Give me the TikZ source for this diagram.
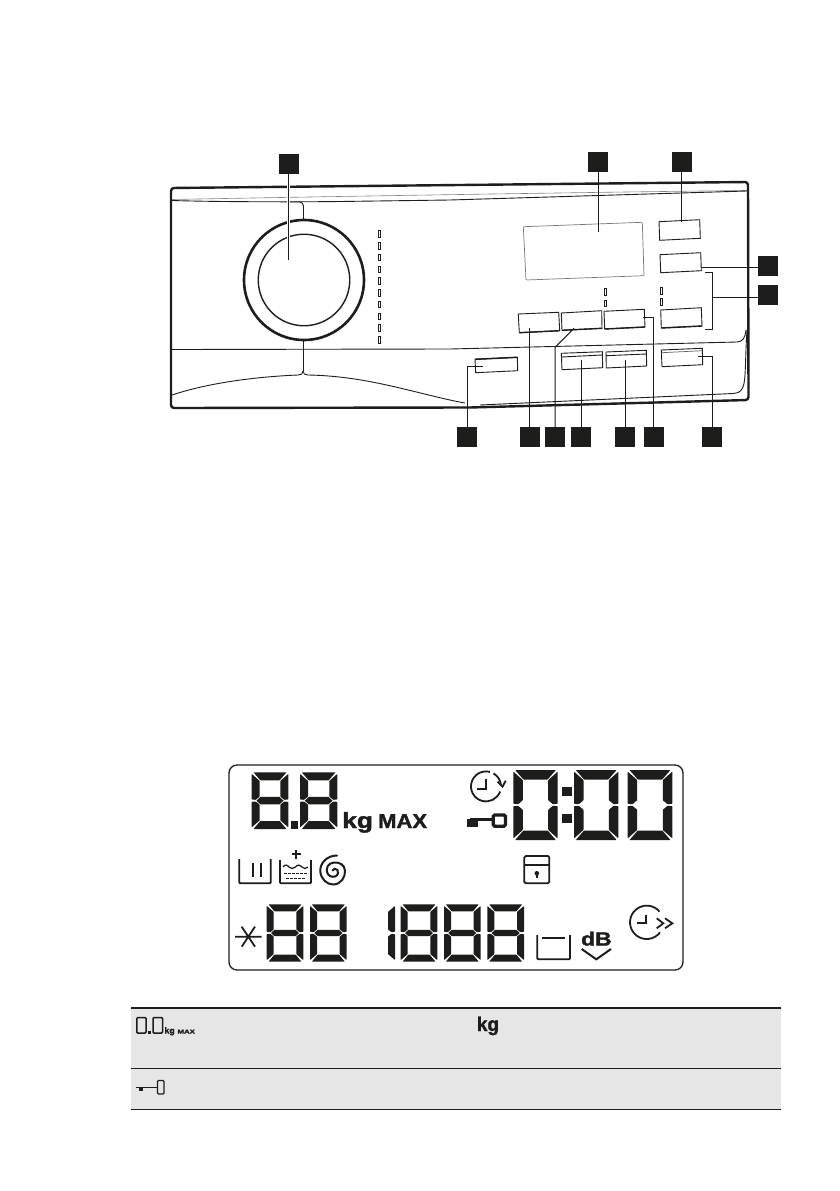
\documentclass[tikz,border=0pt]{standalone}
\usepackage{fontspec}
\usepackage{graphicx}
\setmainfont{Liberation Sans}
\newfontfamily\heavyfont[UprightFont=* Bold,FakeBold=1.6]{Liberation Sans}
\definecolor{ink}{HTML}{1D1D1B}
\definecolor{rowgrey}{HTML}{E6E6E6}
\tikzset{
  x=1pt,y=-1pt,
  tag/.style={fill=ink,draw=none,minimum size=20pt,inner sep=0pt,outer sep=0pt},
  leader/.style={draw=ink,line width=1pt},
  panel/.style={draw=ink,line width=2.4pt,line join=round},
  thin line/.style={draw=ink,line width=0.9pt},
  btn/.style={draw=ink,line width=0.9pt},
  led/.style={draw=ink,line width=0.6pt},
  icon/.style={draw=ink,line width=1.8pt},
  rule/.style={draw=ink,line width=1pt}
}
% seven segments: #1=x #2=y #3=w #4=h #5=thickness #6=list
\newcommand{\lcd}[6]{%
 \def\X{#1}\def\Y{#2}\def\W{#3}\def\H{#4}\def\T{#5}%
 \foreach \s in {#6}{%
  \if\s a\fill[ink,rounded corners=0.6pt] (\X+1.8,\Y) -- (\X+\W-1.8,\Y) -- (\X+\W-\T-0.6,\Y+\T) -- (\X+\T+0.6,\Y+\T) -- cycle;\fi
  \if\s d\fill[ink,rounded corners=0.6pt] (\X+1.8,\Y+\H) -- (\X+\W-1.8,\Y+\H) -- (\X+\W-\T-0.6,\Y+\H-\T) -- (\X+\T+0.6,\Y+\H-\T) -- cycle;\fi
  \if\s g\fill[ink] (\X+\T+0.8,\Y+\H/2-\T/2+0.3) -- (\X+\W-\T-0.8,\Y+\H/2-\T/2+0.3) -- (\X+\W-\T/2-0.8,\Y+\H/2) -- (\X+\W-\T-0.8,\Y+\H/2+\T/2-0.3) -- (\X+\T+0.8,\Y+\H/2+\T/2-0.3) -- (\X+\T/2+0.8,\Y+\H/2) -- cycle;\fi
  \if\s f\fill[ink,rounded corners=0.6pt] (\X,\Y+1.6) -- (\X+\T,\Y+\T+0.6) -- (\X+\T,\Y+\H/2-\T/2) -- (\X+\T/2,\Y+\H/2-0.8) -- (\X,\Y+\H/2-1.2) -- cycle;\fi
  \if\s e\fill[ink,rounded corners=0.6pt] (\X,\Y+\H-1.6) -- (\X+\T,\Y+\H-\T-0.6) -- (\X+\T,\Y+\H/2+\T/2) -- (\X+\T/2,\Y+\H/2+0.8) -- (\X,\Y+\H/2+1.2) -- cycle;\fi
  \if\s b\fill[ink,rounded corners=0.6pt] (\X+\W,\Y+1.6) -- (\X+\W-\T,\Y+\T+0.6) -- (\X+\W-\T,\Y+\H/2-\T/2) -- (\X+\W-\T/2,\Y+\H/2-0.8) -- (\X+\W,\Y+\H/2-1.2) -- cycle;\fi
  \if\s c\fill[ink,rounded corners=0.6pt] (\X+\W,\Y+\H-1.6) -- (\X+\W-\T,\Y+\H-\T-0.6) -- (\X+\W-\T,\Y+\H/2+\T/2) -- (\X+\W-\T/2,\Y+\H/2+0.8) -- (\X+\W,\Y+\H/2+1.2) -- cycle;\fi
 }}
\begin{document}
\begin{tikzpicture}
\useasboundingbox (0,0) rectangle (839,1191);
\fill[white] (0,0) rectangle (839,1191);
% ---------- panel ----------
\draw[panel,rounded corners=3pt] (171,408) -- (171,188) -- (748,182) -- (748.5,400) -- (470,407.5) -- cycle;
\draw[draw=ink!55,line width=0.6pt] (172,199.5) .. controls (300,197) and (600,192) .. (747,190.5);
\draw[thin line] (172,200.5) .. controls (220,202) and (300,202) .. (340,201.5) -- (450,200) -- (747,191);
\draw[thin line,rounded corners=4pt] (290,202) -- (303.5,202) -- (303.5,219);
\draw[thin line] (172,349.5) -- (450,349) -- (737,342) .. controls (743,341.5) and (745,338) .. (746,330);
\draw[thin line] (303,340) -- (303,371);
\draw[thin line] (303,371) .. controls (303,374) and (301,375) .. (298,375) .. controls (250,377) and (205,384) .. (172,395);
\draw[thin line] (303,371) .. controls (303,374) and (305,375) .. (308,375) .. controls (370,376) and (420,395) .. (465,403);
\draw[thin line] (747,330) .. controls (745,360) and (746,380) .. (743,387) .. controls (741,392) and (738,393) .. (733,393.5) -- (480,405);
% knob
\node[circle,draw=ink,line width=2.6pt,minimum size=120pt,inner sep=0,fill=white] (knobouter) at (304,280) {};
\node[circle,draw=ink,line width=1.4pt,minimum size=91.5pt,inner sep=0] (knobinner) at (304,280) {};
% program LEDs
\foreach \i in {0,...,9}{\draw[led] (378,{234+11.74*\i-3.3}) rectangle (380.6,{234+11.74*\i+3.3});}
% display outline
\draw[draw=ink!60,line width=0.7pt,rounded corners=1pt] (523.3,226.7) -- (642.3,222.3) -- (644,275.7) -- (526,280) -- cycle;
% buttons
\draw[btn] (659,221.7) -- (699.7,219.7) -- (700.3,238.3) -- (659.7,240.3) -- cycle;
\draw[btn] (660,254.7) -- (700.7,252.7) -- (701.3,270.7) -- (660.7,272.7) -- cycle;
\draw[btn] (660.7,310) -- (701.3,307.7) -- (702,326) -- (661.3,328) -- cycle;
\draw[btn] (518.3,314) -- (558.7,312.3) -- (559.7,330.7) -- (519.3,332.7) -- cycle;
\draw[btn] (561.3,313) -- (601.7,310.7) -- (602,328.3) -- (562,330.3) -- cycle;
\draw[btn] (604,311.3) -- (644.3,309.3) -- (645,327) -- (604.7,329) -- cycle;
\draw[line width=1.4pt,draw=ink] (661.3,328) -- (702,326) (519.3,332.7) -- (559.7,330.7) (562,330.3) -- (602,328.3) (604.7,329) -- (645,327);
\draw[btn] (475,359.3) -- (517.3,357.3) -- (517.7,370.7) -- (475.7,372.7) -- cycle;
\draw[line width=1.5pt,draw=ink] (475,359.3) -- (517.3,357.3);
\draw[btn] (561.3,353.3) -- (602.3,351.7) -- (602.7,367.7) -- (562,369.7) -- cycle;
\draw[btn] (561.5,357) -- (602.4,355);
\draw[btn] (606,352) -- (646.3,350.3) -- (646.7,366) -- (606.3,368) -- cycle;
\draw[btn] (606.1,355.7) -- (646.4,354);
\draw[btn] (661.3,350) -- (702.3,348.3) -- (702.7,364.7) -- (662,366.7) -- cycle;
\draw[draw=ink!70,line width=0.7pt] (661.5,352.7) -- (702.4,350.7);
% small LEDs
\draw[led] (604.2,288.5) rectangle (606.6,295);
\draw[led] (604.2,300) rectangle (606.6,306.5);
\draw[led] (660.2,287.5) rectangle (662.6,294);
\draw[led] (660.2,298.7) rectangle (662.6,305.2);
% tags
\node[tag] (t1) at (289,164) {};
\node[tag] (t2) at (598,162) {};
\node[tag] (t3) at (682,162) {};
\node[tag] (t4) at (768,266) {};
\node[tag] (t5) at (768,295) {};
\node[tag] (b1) at (467,437) {};
\node[tag] (b2) at (530,437) {};
\node[tag] (b3) at (555,437) {};
\node[tag] (b4) at (581,437) {};
\node[tag] (b5) at (625,437) {};
\node[tag] (b6) at (654,437) {};
\node[tag] (b7) at (712,437) {};
% leader ends
\coordinate (e1) at (288.5,259.5);
\coordinate (e2) at (598.5,231.5);
\coordinate (e3) at (681.5,222);
\coordinate (e4) at (700.7,267);
\coordinate (e5a) at (705,272.3);
\coordinate (e5b) at (712.3,272.3);
\coordinate (e5c) at (712.3,329.3);
\coordinate (e5d) at (705,329.3);
\coordinate (e5m) at (712.3,297.3);
\coordinate (f1a) at (467,366.7);
\coordinate (f1b) at (482.7,366.7);
\coordinate (f2) at (529.7,327.7);
\coordinate (f3a) at (555,347.3);
\coordinate (f3b) at (574,328.3);
\coordinate (f4) at (581.3,360);
\coordinate (f5) at (625,360);
\coordinate (f6a) at (653.3,317.7);
\coordinate (f6b) at (642.7,317.7);
\coordinate (f7a) at (712.3,356.3);
\coordinate (f7b) at (698.3,356.3);
\draw[white,line width=3pt] (288.5,174) -- (288.5,240);
\draw[leader] (t1.south -| e1) -- (e1);
\draw[leader] (t2.south -| e2) -- (e2);
\draw[leader] (t3.south -| e3) -- (e3);
\draw[leader] (t4.west |- e4) -- (e4);
\draw[leader] (e5a) -- (e5b) -- (e5c) -- (e5d);
\draw[leader] (e5m) -- (t5.west |- e5m);
\draw[leader] (b1.north -| f1a) -- (f1a) -- (f1b);
\draw[leader] (b2.north -| f2) -- (f2);
\draw[leader] (b3.north -| f3a) -- (f3a) -- (f3b);
\draw[leader] (b4.north -| f4) -- (f4);
\draw[leader] (b5.north -| f5) -- (f5);
\draw[leader] (b6.north -| f6a) -- (f6a) -- (f6b);
\draw[leader] (b7.north -| f7a) -- (f7a) -- (f7b);
% ---------- LCD ----------
\draw[draw=ink,line width=1.3pt,rounded corners=8pt] (229,765) rectangle (683,970);
\lcd{251.7}{772.3}{36.6}{56.7}{8}{a,b,c,d,e,f,g}
\lcd{300}{772.3}{37.3}{56.7}{8}{a,b,c,d,e,f,g}
\fill[ink] (291,821) rectangle (298,829);
\lcd{513.3}{770}{44.4}{70}{9.5}{a,b,c,d,e,f}
\lcd{574}{770}{44.4}{70}{9.5}{a,b,c,d,e,f}
\lcd{627.7}{770}{44.6}{70}{9.5}{a,b,c,d,e,f}
\fill[ink] (562.3,786.7) rectangle (571.7,796);
\fill[ink] (562.3,814) rectangle (571.7,823.3);
\lcd{266.7}{904.3}{36.6}{57.4}{7}{a,b,c,d,e,f,g}
\lcd{310}{904.3}{36.7}{57.4}{7}{a,b,c,d,e,f,g}
\lcd{379}{904.3}{16}{57.4}{7}{b,c}
\lcd{400.7}{904.3}{36.6}{57.4}{7}{a,b,c,d,e,f,g}
\lcd{444}{904.3}{36.6}{57.4}{7}{a,b,c,d,e,f,g}
\lcd{487.3}{904.3}{36.7}{57.4}{7}{a,b,c,d,e,f,g}
\node[anchor=base west,inner sep=0,text=ink] (kg) at (342,828) {\scalebox{1.2}[1]{\fontsize{22}{22}\selectfont\heavyfont kg}};
\node[anchor=base west,inner sep=0,text=ink] (max) at (378,828) {\scalebox{1.1}[1]{\fontsize{20}{20}\selectfont\heavyfont MAX}};
\node[anchor=base west,inner sep=0,text=ink] (db) at (581,945.5) {\scalebox{1.2}[1]{\fontsize{19}{19}\selectfont\heavyfont dB}};
% clock with return arrow (screen angles negated: y runs down)
\draw[icon] (486,786.4) ++(-75:15) arc (-75:-340:15);
\draw[icon] (486,786.4) ++(-60:15) arc (-60:-5:15);
\draw[icon] (497.7,781.7) -- (502.5,786.7) -- (505.7,780.7);
\draw[icon,line width=2pt] (486,779) -- (486,789) -- (477.3,789);
% key
\draw[ink,line width=3pt] (470,819.8) -- (492,819.8);
\fill[ink] (466.5,818.5) rectangle (478,826.5);
\draw[icon,line width=3.2pt,rounded corners=1.5pt] (493.2,815) rectangle (505.5,826.2);
% lock
\draw[icon,rounded corners=1.5pt] (524.3,856) rectangle (549.3,883.3);
\draw[icon] (524.3,865) -- (549.3,865);
\fill[ink] (536.8,873.3) circle (2.3);
\draw[ink,line width=1.5pt] (536.8,873.3) -- (536.8,878);
% tub bars
\draw[icon,rounded corners=1pt] (239.3,859) -- (239.3,883.3) -- (270.7,883.3) -- (270.7,859);
\draw[icon] (253.3,863) -- (253.3,877) (260.7,863) -- (260.7,877);
% water tub
\draw[icon,rounded corners=1pt] (280,860) -- (280,883.3) -- (311,883.3) -- (311,860);
\draw[icon] (296,850) -- (296,858.5) (291.5,854.3) -- (300.5,854.3);
\draw[icon,line width=1.3pt] (283,867) .. controls (285,864.5) and (287,864.5) .. (289,867) .. controls (291,869) and (293,869) .. (295.5,867) .. controls (297.5,864.5) and (299.5,864.5) .. (302,867) .. controls (304,869) and (306,869) .. (308,867);
\draw[icon,line width=1.6pt,dash pattern=on 2.6pt off 1.4pt] (284,873.3) -- (308,873.3);
\draw[icon,line width=1.6pt,dash pattern=on 2.6pt off 1.4pt] (286,878.3) -- (305,878.3);
% spiral
\draw[icon,line width=2pt,line cap=round] (337,855.5) .. controls (327,855.5) and (320,863) .. (320.3,871) .. controls (320.6,879) and (327,884.5) .. (333,884.5) .. controls (341,884.5) and (345.5,877) .. (345,870.5) .. controls (344.5,864.5) and (339,862) .. (334,862.5) .. controls (328,863) and (326,868) .. (327,872) .. controls (328,876) and (332,877.5) .. (335,876.5) .. controls (338,875.5) and (339,872) .. (337.5,870) .. controls (336,868) and (333,868.5) .. (332.5,870.5);
% frost star
\draw[icon] (235,936.7) -- (261.7,936.7) (241.7,926.7) -- (255,946.7) (255,926.7) -- (241.7,946.7);
% tray
\draw[icon,rounded corners=1pt] (537.3,935) -- (537.3,959.3) -- (570,959.3) -- (570,935);
\draw[icon] (541.7,938.3) -- (565,938.3);
% dB chevron
\draw[icon,line width=2pt] (581.7,949) -- (596.3,959.3) -- (611,949);
% delay clock
\draw[icon] (646.7,922.3) ++(37:16.7) arc (37:320:16.7);
\draw[icon,line width=2pt] (645.7,914.5) -- (645.7,922.7) -- (636.7,922.7);
\draw[icon] (656.7,918.3) -- (663.3,923.3) -- (656.7,928.3);
\draw[icon] (665,918.3) -- (672.3,923.3) -- (665,928.3);
% ---------- table ----------
\fill[rowgrey] (131,1008) rectangle (781,1109);
\draw[draw=ink,line width=1.7pt] (131,1007.7) -- (781,1007.7);
\draw[rule] (131,1068.3) -- (781,1068.3);
\draw[rule] (131,1109) -- (781,1109);
\draw[draw=ink,line width=1.5pt,rounded corners=1pt] (136.8,1017.5) rectangle (146,1033);
\draw[draw=ink,line width=1.5pt,rounded corners=1pt] (153,1017.5) rectangle (162.5,1033);
\fill[ink] (148,1031) rectangle (151,1034);
\node[anchor=base west,inner sep=0,text=ink] (kgs) at (164.3,1033.5) {\fontsize{8.8}{8.8}\selectfont\heavyfont kg};
\node[anchor=base west,inner sep=0,text=ink] (maxs) at (177.3,1033.5) {\scalebox{1.4}[1]{\fontsize{5.6}{5.6}\selectfont\heavyfont MAX}};
\node[anchor=base west,inner sep=0,text=ink] (kgb) at (476.7,1031) {\scalebox{0.95}[1]{\fontsize{20}{20}\selectfont\heavyfont kg}};
\draw[ink,line width=1.5pt] (136,1087.5) -- (158,1087.5);
\fill[ink] (139.3,1087.5) rectangle (143.3,1091);
\draw[draw=ink,line width=1.3pt,rounded corners=1pt] (157.5,1080.5) rectangle (164,1094);
\end{tikzpicture}
\end{document}
